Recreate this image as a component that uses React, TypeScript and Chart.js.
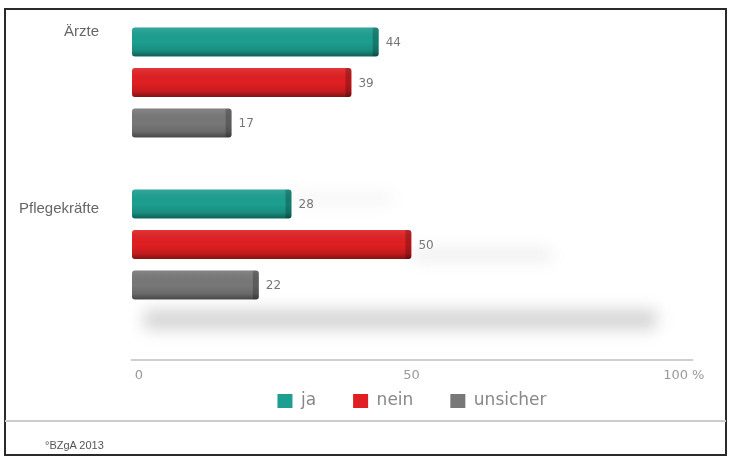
import React, { useEffect, useRef } from 'react';
import { Chart, registerables } from 'chart.js';

Chart.register(...registerables);

// ---- data ----
const categories = ['Ärzte', 'Pflegekräfte'];
const seriesNames = ['ja', 'nein', 'unsicher'];
const jaValues = [44, 28];
const neinValues = [39, 50];
const unsicherValues = [17, 22];
const tickValues = [0, 50, 100];
const tickLabels = ['0', '50', '100 %'];
const sourceNote = '°BZgA 2013';

// ---- styles ----
const seriesColors = ['#1c9f90', '#e01f22', '#787878'];
const X_MIN = -1.28;
const X_MAX = 101.5;
const Y_MIN = -0.386;
const Y_MAX = 1.713;
const labelDy = [-10, 5];
const LEGEND_PAD = 37;
const LEGEND_FONT = 17;

const decorPlugin = {
  id: 'decor',
  afterLayout(chart: any) {
    const lg = chart.legend;
    if (!lg) return;
    const h = lg.height;
    lg.top = chart.chartArea.bottom + 41 - LEGEND_PAD - LEGEND_FONT / 2;
    lg.bottom = lg.top + h;
  },
  beforeDatasetsDraw(chart: any) {
    const ctx = chart.ctx;
    const xs = chart.scales.x;
    const last = categories.length - 1;
    const lastBar = chart.getDatasetMeta(2).data[last];
    if (!lastBar) return;
    const p = lastBar.getProps(['x', 'y', 'base', 'height'], true);
    const bottom = p.y + p.height / 2;
    ctx.save();
    ctx.filter = 'blur(8px)';
    ctx.fillStyle = 'rgba(0,0,0,0.17)';
    ctx.fillRect(p.base + 12, bottom + 10, xs.getPixelForValue(95) - p.base - 12, 20);
    const m0 = chart.getDatasetMeta(0).data[last];
    const m1 = chart.getDatasetMeta(1).data[last];
    if (m0) {
      const q = m0.getProps(['x', 'y', 'height'], true);
      ctx.fillStyle = 'rgba(0,0,0,0.05)';
      ctx.fillRect(q.x, q.y - q.height / 2 + 4, 100, 10);
    }
    if (m1) {
      const q = m1.getProps(['x', 'y', 'height'], true);
      ctx.fillStyle = 'rgba(0,0,0,0.07)';
      ctx.fillRect(q.x, q.y + q.height / 2 - 10, 140, 12);
    }
    ctx.restore();
  },
  afterDatasetsDraw(chart: any) {
    const ctx = chart.ctx;
    chart.data.datasets.forEach((ds: any, d: number) => {
      const meta = chart.getDatasetMeta(d);
      meta.data.forEach((bar: any, i: number) => {
        const { x, y, base, height } = bar.getProps(['x', 'y', 'base', 'height'], true);
        const top = y - height / 2;
        ctx.save();
        ctx.beginPath();
        ctx.roundRect(base, top, x - base, height, 3);
        ctx.clip();
        const g = ctx.createLinearGradient(0, top, 0, top + height);
        g.addColorStop(0, 'rgba(255,255,255,0.10)');
        g.addColorStop(0.5, 'rgba(0,0,0,0)');
        g.addColorStop(0.8, 'rgba(0,0,0,0.12)');
        g.addColorStop(1, 'rgba(0,0,0,0.42)');
        ctx.fillStyle = g;
        ctx.fillRect(base, top, x - base, height);
        ctx.fillStyle = 'rgba(0,0,0,0.22)';
        ctx.fillRect(x - 6, top, 6, height);
        ctx.restore();
        ctx.save();
        ctx.font = '12px "DejaVu Sans"';
        ctx.fillStyle = '#777';
        ctx.textAlign = 'left';
        ctx.textBaseline = 'middle';
        ctx.fillText(String(ds.data[i].x), x + 7, y + 1);
        ctx.restore();
      });
    });
    const meta0 = chart.getDatasetMeta(0);
    ctx.save();
    ctx.font = '15px "Liberation Sans", Arial, sans-serif';
    ctx.fillStyle = '#666';
    ctx.textAlign = 'right';
    ctx.textBaseline = 'middle';
    categories.forEach((c, i) => {
      const bar = meta0.data[i];
      if (!bar) return;
      const { y } = bar.getProps(['y'], true);
      ctx.fillText(c, chart.chartArea.left - 33, y + labelDy[i]);
    });
    ctx.restore();
  },
};

export default function App() {
  const canvasRef = useRef<HTMLCanvasElement | null>(null);

  useEffect(() => {
    if (!canvasRef.current) return;
    const seriesValues = [jaValues, neinValues, unsicherValues];
    const chart = new Chart(canvasRef.current, {
      type: 'bar',
      data: {
        labels: categories,
        datasets: seriesNames.map((name, s) => ({
          label: name,
          data: seriesValues[s].map((v, i) => ({ x: v, y: i })),
          backgroundColor: seriesColors[s],
          borderWidth: 0,
          borderRadius: 3,
          borderSkipped: false,
          base: X_MIN,
          categoryPercentage: 0.75,
          barPercentage: 0.716,
        })),
      },
      options: {
        indexAxis: 'y',
        responsive: false,
        animation: false,
        layout: { padding: { top: 20, left: 132, right: 37, bottom: 15 } },
        scales: {
          x: {
            type: 'linear',
            min: X_MIN,
            max: X_MAX,
            afterBuildTicks: (s: any) => {
              s.ticks = tickValues.map((v) => ({ value: v }));
            },
            afterFit: (s: any) => {
              s.height = 21;
            },
            ticks: {
              callback: (_v: any, idx: number) => tickLabels[idx] ?? '',
              color: '#999',
              font: { family: 'DejaVu Sans', size: 13 },
              padding: 8,
              maxRotation: 0,
              autoSkip: false,
            },
            grid: { display: false, drawTicks: false },
            border: { display: true, color: '#cfcfcf', width: 2 },
          },
          y: {
            type: 'linear',
            reverse: true,
            offset: false,
            min: Y_MIN,
            max: Y_MAX,
            display: false,
            afterBuildTicks: (s: any) => {
              s.ticks = categories.map((_c, i) => ({ value: i }));
            },
          },
        },
        plugins: {
          legend: {
            position: 'bottom',
            labels: {
              boxWidth: 15,
              boxHeight: 14,
              padding: LEGEND_PAD,
              color: '#888',
              font: { family: 'DejaVu Sans', size: LEGEND_FONT },
            },
          },
          tooltip: { enabled: false },
        },
      },
      plugins: [decorPlugin],
    } as any);
    return () => chart.destroy();
  }, []);

  return (
    <div style={{ position: 'absolute', left: 0, top: 0, width: 729, height: 460, background: '#fff', overflow: 'hidden' }}>
      <canvas ref={canvasRef} width={729} height={460} style={{ position: 'absolute', left: 0, top: 0 }} />
      <div style={{ position: 'absolute', left: 4, top: 8, width: 723, height: 448, border: '2px solid #2a2a2a', boxSizing: 'border-box', pointerEvents: 'none' }} />
      <div style={{ position: 'absolute', left: 5, top: 420, width: 721, height: 2, background: '#cccccc' }} />
      <div style={{ position: 'absolute', left: 45, top: 438, fontFamily: '"Liberation Sans", Arial, sans-serif', fontSize: 11, lineHeight: '14px', color: '#555' }}>
        {sourceNote}
      </div>
    </div>
  );
}
